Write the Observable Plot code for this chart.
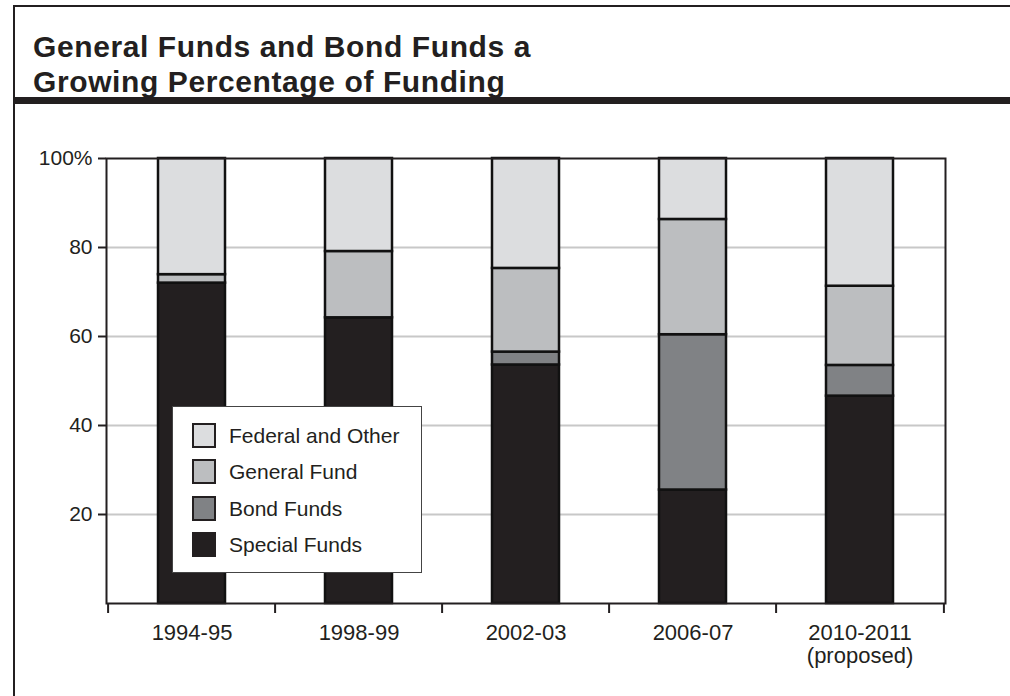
<!DOCTYPE html>
<html><head><meta charset="utf-8">
<script src="https://cdn.jsdelivr.net/npm/d3@7"></script>
<script src="https://cdn.jsdelivr.net/npm/@observablehq/plot@0.6"></script>
<style>
body{margin:0;background:#fff;width:1010px;height:696px;overflow:hidden;position:relative;font-family:"Liberation Sans",Arial,Helvetica,sans-serif;color:#231f20;}
#frame{position:absolute;left:13px;top:5px;width:1100px;height:800px;border:2px solid #231f20;}
#rule{position:absolute;left:13px;top:97px;width:1000px;height:7px;background:#231f20;}
.title{position:absolute;left:33px;font-weight:bold;font-size:30px;line-height:30px;letter-spacing:0.6px;white-space:nowrap;}
#chart{position:absolute;left:0;top:120px;}
#legend{position:absolute;left:172px;top:406px;width:250px;height:167px;border:1.5px solid #444;background:#fff;box-sizing:border-box;}
.row{position:absolute;left:19px;height:25px;display:flex;align-items:center;}
.sw{width:24px;height:25px;border:2px solid #231f20;box-sizing:border-box;margin-right:13px;}
.lb{font-size:21px;white-space:nowrap;}
</style></head>
<body>
<div id="frame"></div>
<div id="rule"></div>
<div class="title" style="top:32px">General Funds and Bond Funds a</div>
<div class="title" style="top:67px">Growing Percentage of Funding</div>
<div id="chart"></div>
<div id="legend"></div>
<script>
const years = ["1994-95", "1998-99", "2002-03", "2006-07", "2010-2011\n(proposed)"];
const series = ["Special Funds", "Bond Funds", "General Fund", "Federal and Other"];
const special = [72.0, 64.2, 53.6, 25.5, 46.6];
const bond = [0, 0, 2.9, 34.9, 6.9];
const general = [1.9, 14.9, 18.8, 25.9, 17.8];
const federal = [26.1, 20.9, 24.7, 13.7, 28.7];
const colors = ["#231f20", "#808285", "#bcbec0", "#dcdddf"];
const yTicks = [20, 40, 60, 80, 100];
const gridTicks = [20, 40, 60, 80];
const legendOrder = ["Federal and Other", "General Fund", "Bond Funds", "Special Funds"];

const valuesBySeries = [special, bond, general, federal];
const data = [];
years.forEach((yr, i) => {
  series.forEach((s, j) => data.push({year: yr, series: s, value: valuesBySeries[j][i]}));
});

const W = 1010, H = 576;
const mL = 106, mR = 65, mT = 38, mB = 93;
const plotW = W - mL - mR, plotH = H - mT - mB;
const step = plotW / years.length;

const chart = Plot.plot({
  width: W, height: H,
  marginLeft: mL, marginRight: mR, marginTop: mT, marginBottom: mB,
  style: {fontFamily: '"Liberation Sans", Arial, sans-serif', fontSize: "21px", color: "#231f20", background: "transparent"},
  x: {domain: years, type: "band", paddingInner: 0.6, paddingOuter: 0.3, label: null},
  y: {domain: [0, 100], label: null},
  color: {domain: series, range: colors},
  marks: [
    Plot.gridY(gridTicks, {stroke: "#c8c8c8", strokeOpacity: 1, strokeWidth: 2}),
    Plot.barY(data, {x: "year", y: "value", fill: "series", stroke: "#111", strokeWidth: 2.5}),
    Plot.frame({stroke: "#231f20", strokeWidth: 2}),
    Plot.axisY({ticks: yTicks, tickFormat: d => d === 100 ? "100%" : String(d), tickSize: 8, tickPadding: 6, strokeWidth: 2, fontSize: 21}),
    Plot.axisX({tickSize: 0, tickPadding: 20, fontSize: 22, lineHeight: 1.05}),
    Plot.ruleX(years, {x: d => d, dx: -step / 2, insetTop: plotH, insetBottom: -10, stroke: "#231f20", strokeWidth: 2}),
    Plot.ruleX(years.slice(-1), {x: d => d, dx: step / 2, insetTop: plotH, insetBottom: -10, stroke: "#231f20", strokeWidth: 2})
  ]
});
document.getElementById("chart").appendChild(chart);

const leg = document.getElementById("legend");
const rowTops = [16, 52, 89, 125];
legendOrder.forEach((name, k) => {
  const row = document.createElement("div");
  row.className = "row";
  row.style.top = rowTops[k] + "px";
  const sw = document.createElement("div");
  sw.className = "sw";
  sw.style.background = colors[series.indexOf(name)];
  const lb = document.createElement("div");
  lb.className = "lb";
  lb.textContent = name;
  row.appendChild(sw); row.appendChild(lb);
  leg.appendChild(row);
});
</script>
</body></html>
